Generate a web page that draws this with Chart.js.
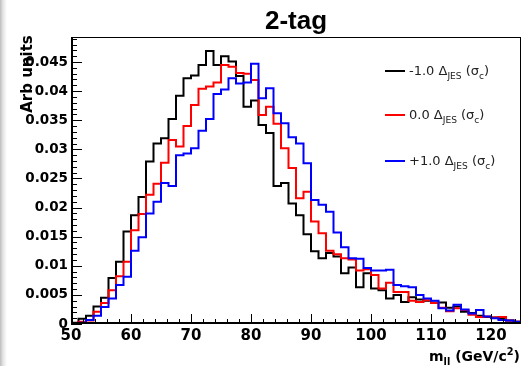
<!DOCTYPE html>
<html>
<head>
<meta charset="utf-8">
<script src="https://cdn.jsdelivr.net/npm/chart.js@4/dist/chart.umd.min.js"></script>
<style>
  html, body { margin: 0; padding: 0; background: #fff; }
  #wrap {
    position: relative; width: 523px; height: 366px;
    background: linear-gradient(to right, #bdbdbd 0, #e4e4e4 3px, #fff 7px);
  }
  canvas { position: absolute; left: 0; top: 0; }
</style>
</head>
<body>
<div id="wrap"><canvas id="histo" width="523" height="366"></canvas></div>
<script>
// bin edges of the m_ll histogram (GeV/c^2), 60 bins
const binEdges = [
  50, 51.25, 52.5, 53.75, 55, 56.25, 57.5, 58.75, 60, 61.25,
  62.5, 63.75, 65, 66.25, 67.5, 68.75, 70, 71.25, 72.5, 73.75,
  75, 76.25, 77.5, 78.75, 80, 81.25, 82.5, 83.75, 85, 86.25,
  87.5, 88.75, 90, 91.25, 92.5, 93.75, 95, 96.25, 97.5, 98.75,
  100, 101.25, 102.5, 103.75, 105, 106.25, 107.5, 108.75, 110, 111.25,
  112.5, 113.75, 115, 116.25, 117.5, 118.75, 120, 121.25, 122.5, 123.75,
  125
];

// -1.0 JES
const minusOne = [
  0.0002, 0.0009, 0.0014, 0.0030, 0.0045, 0.0079, 0.0107, 0.0159, 0.0187, 0.0218,
  0.0279, 0.0310, 0.0319, 0.0352, 0.0392, 0.0422, 0.0427, 0.0445, 0.0469, 0.0445,
  0.0460, 0.0451, 0.0426, 0.0373, 0.0384, 0.0342, 0.0328, 0.0237, 0.0242, 0.0207,
  0.0187, 0.0154, 0.0125, 0.0113, 0.0122, 0.0116, 0.0087, 0.0097, 0.0063, 0.0087,
  0.0061, 0.0058, 0.0044, 0.0050, 0.0038, 0.0046, 0.0042, 0.0040, 0.0037, 0.0037,
  0.0028, 0.0030, 0.0021, 0.0019, 0.0014, 0.0012, 0.0011, 0.0009, 0.0006, 0.0004
];
// 0.0 JES
const nominal = [
  0.0001, 0.0004, 0.0006, 0.0021, 0.0036, 0.0058, 0.0082, 0.0107, 0.0161, 0.0189,
  0.0222, 0.0241, 0.0277, 0.0316, 0.0305, 0.0340, 0.0376, 0.0404, 0.0408, 0.0415,
  0.0445, 0.0442, 0.0431, 0.0430, 0.0419, 0.0359, 0.0373, 0.0344, 0.0302, 0.0268,
  0.0216, 0.0227, 0.0176, 0.0156, 0.0126, 0.0120, 0.0113, 0.0111, 0.0092, 0.0094,
  0.0084, 0.0061, 0.0071, 0.0055, 0.0055, 0.0040, 0.0038, 0.0041, 0.0036, 0.0028,
  0.0022, 0.0027, 0.0024, 0.0016, 0.0012, 0.0013, 0.0011, 0.0012, 0.0006, 0.0004
];
// +1.0 JES
const plusOne = [
  0.0001, 0.0002, 0.0007, 0.0014, 0.0029, 0.0044, 0.0067, 0.0081, 0.0126, 0.0149,
  0.0190, 0.0210, 0.0242, 0.0237, 0.0290, 0.0293, 0.0302, 0.0332, 0.0352, 0.0395,
  0.0403, 0.0422, 0.0413, 0.0415, 0.0447, 0.0388, 0.0405, 0.0362, 0.0345, 0.0321,
  0.0310, 0.0276, 0.0213, 0.0205, 0.0193, 0.0157, 0.0132, 0.0113, 0.0112, 0.0096,
  0.0092, 0.0092, 0.0093, 0.0067, 0.0065, 0.0063, 0.0050, 0.0044, 0.0040, 0.0027,
  0.0023, 0.0033, 0.0025, 0.0018, 0.0024, 0.0013, 0.0010, 0.0007, 0.0006, 0.0004
];

const shiftLabels = ['-1.0', '0.0', '+1.0'];
const xTicks = [50, 60, 70, 80, 90, 100, 110, 120];
const yTicks = [0, 0.005, 0.01, 0.015, 0.02, 0.025, 0.03, 0.035, 0.04, 0.045];

// turn bin contents into step outline points (value held from left edge)
function outline(vals) {
  let pts = [{ x: binEdges[0], y: 0 }]
  binEdges.forEach((e, i) => {
    pts.push({ x: e, y: vals[Math.min(i, vals.length - 1)] })
  })
  return pts
}

const colors = ['#000000', '#ff0000', '#0000ff'];
const series = [minusOne, nominal, plusOne];

const datasets = series.map((vals, i) => ({
  label: shiftLabels[i],
  data: outline(vals),
  borderColor: colors[i],
  borderWidth: 2,
  stepped: 'before',
  fill: false,
  pointRadius: 0,
  order: 3 - i
}))

// little helper for text with sub/superscripts
function richText(ctx, x, y, parts, size, weight, family) {
  parts.forEach(p => {
    let s = p.sub || p.sup ? size * 0.7 : size
    let dy = p.sub ? size * 0.3 : (p.sup ? -size * 0.45 : 0)
    ctx.font = weight + ' ' + s + 'px ' + family
    ctx.fillText(p.t, x, y + dy)
    x += ctx.measureText(p.t).width
  })
  return x
}
function richWidth(ctx, parts, size, weight, family) {
  let w = 0
  parts.forEach(p => {
    let s = p.sub || p.sup ? size * 0.7 : size
    ctx.font = weight + ' ' + s + 'px ' + family
    w += ctx.measureText(p.t).width
  })
  return w
}

const decor = {
  id: 'decor',
  afterDraw(chart) {
    const { ctx, chartArea: a, scales: { x, y } } = chart
    ctx.save()
    ctx.strokeStyle = '#000'
    ctx.fillStyle = '#000'

    // frame
    ctx.lineWidth = 1
    ctx.strokeRect(a.left + 0.5, a.top + 0.5, a.right - a.left - 1, a.bottom - a.top - 1)
    ctx.beginPath()
    ctx.moveTo(a.left + 1.5, a.top); ctx.lineTo(a.left + 1.5, a.bottom)
    ctx.moveTo(a.left, a.bottom - 1.5); ctx.lineTo(a.right, a.bottom - 1.5)
    ctx.stroke()

    // inner ticks, x
    ctx.beginPath()
    for (let v = 50; v <= 125; v += 2) {
      let px = Math.round(x.getPixelForValue(v)) + 0.5
      let len = (v - 50) % 10 === 0 ? 10 : 5
      ctx.moveTo(px, a.bottom)
      ctx.lineTo(px, a.bottom - len)
    }
    // inner ticks, y
    for (let k = 0; k <= 49; k++) {
      let py = Math.round(y.getPixelForValue(k * 0.001)) + 0.5
      let len = k % 5 === 0 ? 11 : 6
      ctx.moveTo(a.left, py)
      ctx.lineTo(a.left + len, py)
    }
    ctx.stroke()

    // title
    ctx.textAlign = 'center'
    ctx.textBaseline = 'alphabetic'
    ctx.font = 'bold 26px "Liberation Sans"'
    ctx.fillText('2-tag', (a.left + a.right) / 2, 29)

    // y title
    ctx.save()
    ctx.translate(32, 74)
    ctx.rotate(-Math.PI / 2)
    ctx.font = 'bold 15px "DejaVu Sans"'
    ctx.fillText('Arb units', 0, 0)
    ctx.restore()

    // x title, right aligned
    ctx.textAlign = 'left'
    const xt = [{ t: 'm' }, { t: 'll', sub: 1 }, { t: ' (GeV/c' }, { t: '2', sup: 1 }, { t: ')' }]
    let w = richWidth(ctx, xt, 14, 'bold', '"DejaVu Sans"')
    richText(ctx, 520 - w, 361, xt, 14, 'bold', '"DejaVu Sans"')

    // legend
    const rows = [71, 115, 161]
    shiftLabels.forEach((lab, i) => {
      ctx.strokeStyle = colors[i]
      ctx.lineWidth = 2
      ctx.beginPath()
      ctx.moveTo(385, rows[i]); ctx.lineTo(405, rows[i])
      ctx.stroke()
      ctx.fillStyle = '#222'
      const parts = [{ t: lab + ' \u0394' }, { t: 'JES', sub: 1 }, { t: ' (\u03c3' }, { t: 'c', sub: 1 }, { t: ')' }]
      richText(ctx, 409, rows[i] + 4, parts, 13, 'normal', '"DejaVu Sans"')
    })
    ctx.restore()
  }
}

new Chart(document.getElementById('histo'), {
  type: 'line',
  data: { datasets: datasets },
  options: {
    responsive: false,
    animation: false,
    devicePixelRatio: 1,
    layout: { padding: { top: 37, right: 2, left: 0, bottom: 0 } },
    plugins: {
      legend: { display: false },
      tooltip: { enabled: false },
      title: { display: false }
    },
    scales: {
      x: {
        type: 'linear',
        min: 50,
        max: 125,
        grid: { display: false, drawTicks: false },
        border: { display: false },
        afterFit: s => { s.height = 42 },
        afterBuildTicks: s => { s.ticks = xTicks.map(v => ({ value: v })) },
        ticks: {
          padding: 3,
          maxRotation: 0,
          autoSkip: false,
          color: '#000',
          font: { family: 'DejaVu Sans', weight: 'bold', size: 15 },
          callback: v => String(v)
        }
      },
      y: {
        min: 0,
        max: 0.0493,
        grid: { display: false, drawTicks: false },
        border: { display: false },
        afterFit: s => { s.width = 71 },
        afterBuildTicks: s => { s.ticks = yTicks.map(v => ({ value: v })) },
        ticks: {
          padding: 3,
          autoSkip: false,
          color: '#000',
          font: { family: 'DejaVu Sans', weight: 'bold', size: 13.5 },
          callback: v => String(+v.toFixed(3))
        }
      }
    }
  },
  plugins: [decor]
})
</script>
</body>
</html>
